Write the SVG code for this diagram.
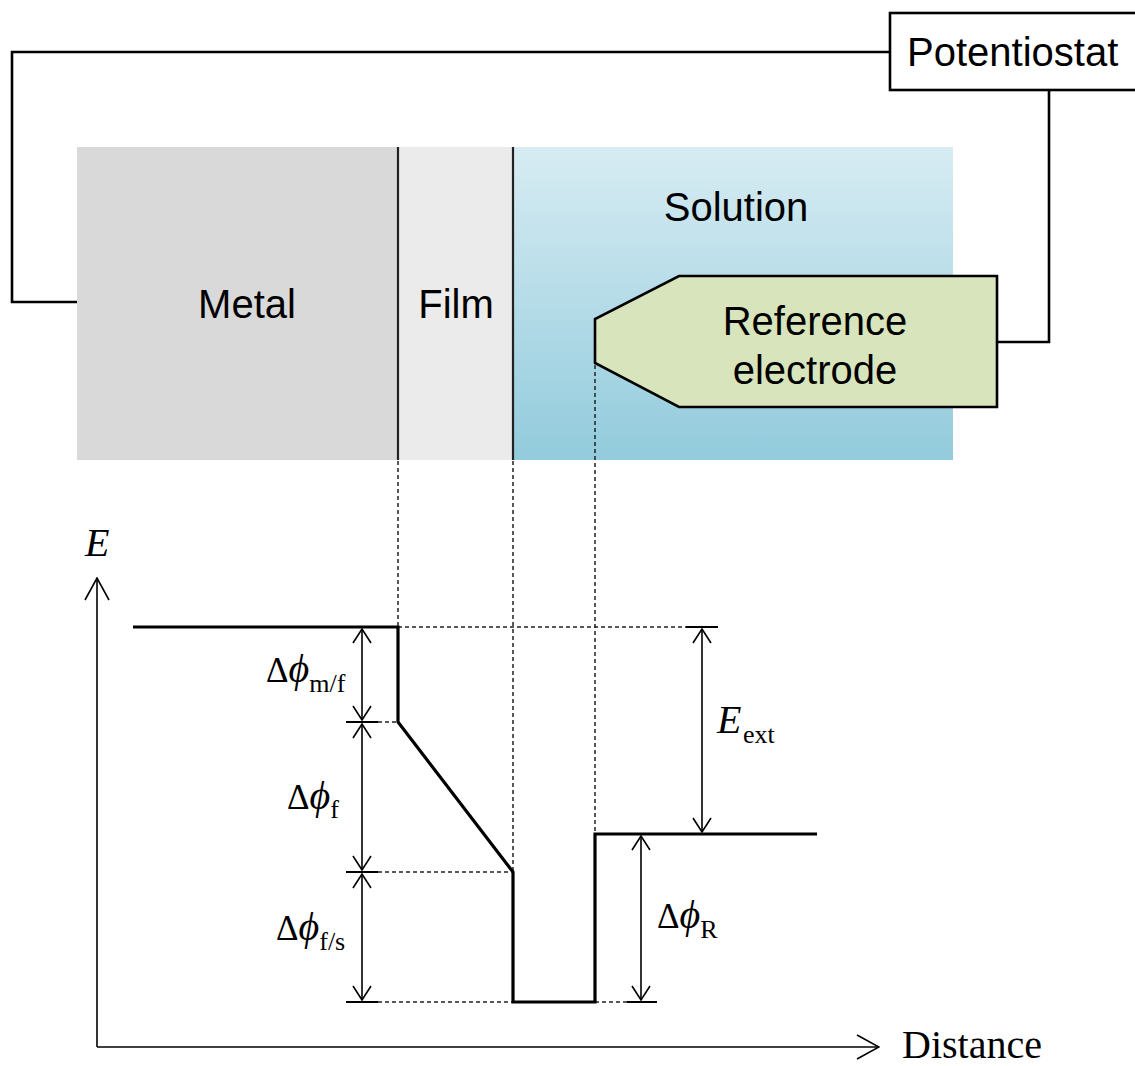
<svg xmlns="http://www.w3.org/2000/svg" width="1135" height="1066" viewBox="0 0 1135 1066">
<style>
.sans{font-family:"Liberation Sans",Arial,sans-serif;font-size:40px;fill:#000}
.serif{font-family:"Liberation Serif","Times New Roman","DejaVu Serif",serif;fill:#000}
.wire{fill:none;stroke:#000;stroke-width:2.6}
.level{fill:none;stroke:#000;stroke-width:3.2}
.dash{fill:none;stroke:#222;stroke-width:1.5;stroke-dasharray:4 3}
.dim{fill:none;stroke:#000;stroke-width:1.6;marker-start:url(#tip);marker-end:url(#tip)}
.tick{fill:none;stroke:#000;stroke-width:2}
.axis{fill:none;stroke:#000;stroke-width:1.6}
</style>
<defs>
<linearGradient id="sol" x1="0" y1="0" x2="0" y2="1">
<stop offset="0" stop-color="#d7ecf3"/>
<stop offset="1" stop-color="#92cbdc"/>
</linearGradient>
<marker id="tip" viewBox="0 0 16 20" refX="15" refY="10" markerWidth="16" markerHeight="20" markerUnits="userSpaceOnUse" orient="auto-start-reverse">
<path d="M1,1 L15,10 L1,19" fill="none" stroke="#000" stroke-width="1.6"/>
</marker>
<marker id="axtip" viewBox="0 0 24 28" refX="23" refY="14" markerWidth="24" markerHeight="28" markerUnits="userSpaceOnUse" orient="auto">
<path d="M1,2 L23,14 L1,26" fill="none" stroke="#000" stroke-width="1.6"/>
</marker>
</defs>

<g id="metal">
<rect x="77" y="147" width="321" height="313" fill="#d9d9d9"/>
<text class="sans" x="247" y="318" text-anchor="middle">Metal</text>
</g>
<g id="film">
<rect x="398" y="147" width="115" height="313" fill="#ebebeb"/>
<text class="sans" x="456" y="318" text-anchor="middle">Film</text>
</g>
<g id="solution">
<rect x="513" y="147" width="440" height="313" fill="url(#sol)"/>
<text class="sans" x="736" y="221" text-anchor="middle">Solution</text>
</g>
<g id="boundaries">
<line x1="398" y1="147" x2="398" y2="460" stroke="#222" stroke-width="2.2"/>
<line x1="513" y1="147" x2="513" y2="460" stroke="#222" stroke-width="2.2"/>
</g>
<g id="reference-electrode">
<polygon points="679,276 997,276 997,407 679,407 595,363 595,319" fill="#d8e4bc" stroke="#000" stroke-width="2.6"/>
<text class="sans" x="815" y="335" text-anchor="middle">Reference</text>
<text class="sans" x="815" y="384" text-anchor="middle">electrode</text>
</g>
<g id="potentiostat">
<rect x="890" y="13" width="260" height="77" fill="#fff" stroke="#000" stroke-width="2.6"/>
<text class="sans" x="907" y="66">Potentiostat</text>
</g>

<g id="connectors">
<polyline class="wire" points="890,52 12,52 12,302 77,302"/>
<polyline class="wire" points="1049,90 1049,342 997,342"/>
<line class="dash" x1="398" y1="461" x2="398" y2="627"/>
<line class="dash" x1="513" y1="461" x2="513" y2="872"/>
<line class="dash" x1="595" y1="365" x2="595" y2="834"/>
<line class="dash" x1="398" y1="627" x2="686" y2="627"/>
<line class="dash" x1="378" y1="722" x2="398" y2="722"/>
<line class="dash" x1="378" y1="872" x2="513" y2="872"/>
<line class="dash" x1="378" y1="1002" x2="513" y2="1002"/>
<line class="dash" x1="595" y1="1002" x2="627" y2="1002"/>
<line class="tick" x1="686" y1="627" x2="718" y2="627"/>
<line class="tick" x1="346" y1="722" x2="378" y2="722"/>
<line class="tick" x1="346" y1="872" x2="378" y2="872"/>
<line class="tick" x1="346" y1="1002" x2="378" y2="1002"/>
<line class="tick" x1="627" y1="1002" x2="657" y2="1002"/>
<polyline class="level" points="133,627 398,627 398,722 513,872 513,1002 595,1002 595,834 817,834"/>
<line class="dim" x1="362" y1="629" x2="362" y2="720"/>
<line class="dim" x1="362" y1="724" x2="362" y2="870"/>
<line class="dim" x1="362" y1="874" x2="362" y2="1000"/>
<line class="dim" x1="702" y1="629" x2="702" y2="832"/>
<line class="dim" x1="641" y1="836" x2="641" y2="1000"/>
<polyline class="axis" points="97,1047 879,1047" marker-end="url(#axtip)"/>
<line class="axis" x1="97" y1="1047" x2="97" y2="578" marker-end="url(#axtip)"/>
</g>

<g id="labels">
<text class="serif" x="85" y="556" font-size="40" font-style="italic">E</text>
<text class="serif" x="902" y="1058" font-size="40">Distance</text>
<text class="serif" x="266" y="682" font-size="40"><tspan font-size="35">Δ</tspan><tspan font-style="italic">ϕ</tspan><tspan y="692" font-size="26">m/f</tspan></text>
<text class="serif" x="287" y="809" font-size="40"><tspan font-size="35">Δ</tspan><tspan font-style="italic">ϕ</tspan><tspan y="818" font-size="26">f</tspan></text>
<text class="serif" x="276" y="940" font-size="40"><tspan font-size="35">Δ</tspan><tspan font-style="italic">ϕ</tspan><tspan y="950" font-size="26">f/s</tspan></text>
<text class="serif" x="657" y="928" font-size="40"><tspan font-size="35">Δ</tspan><tspan font-style="italic">ϕ</tspan><tspan y="938" font-size="26">R</tspan></text>
<text class="serif" y="733" font-size="40"><tspan x="717" font-style="italic">E</tspan><tspan x="743" y="743" font-size="26">ext</tspan></text>
</g>
</svg>
